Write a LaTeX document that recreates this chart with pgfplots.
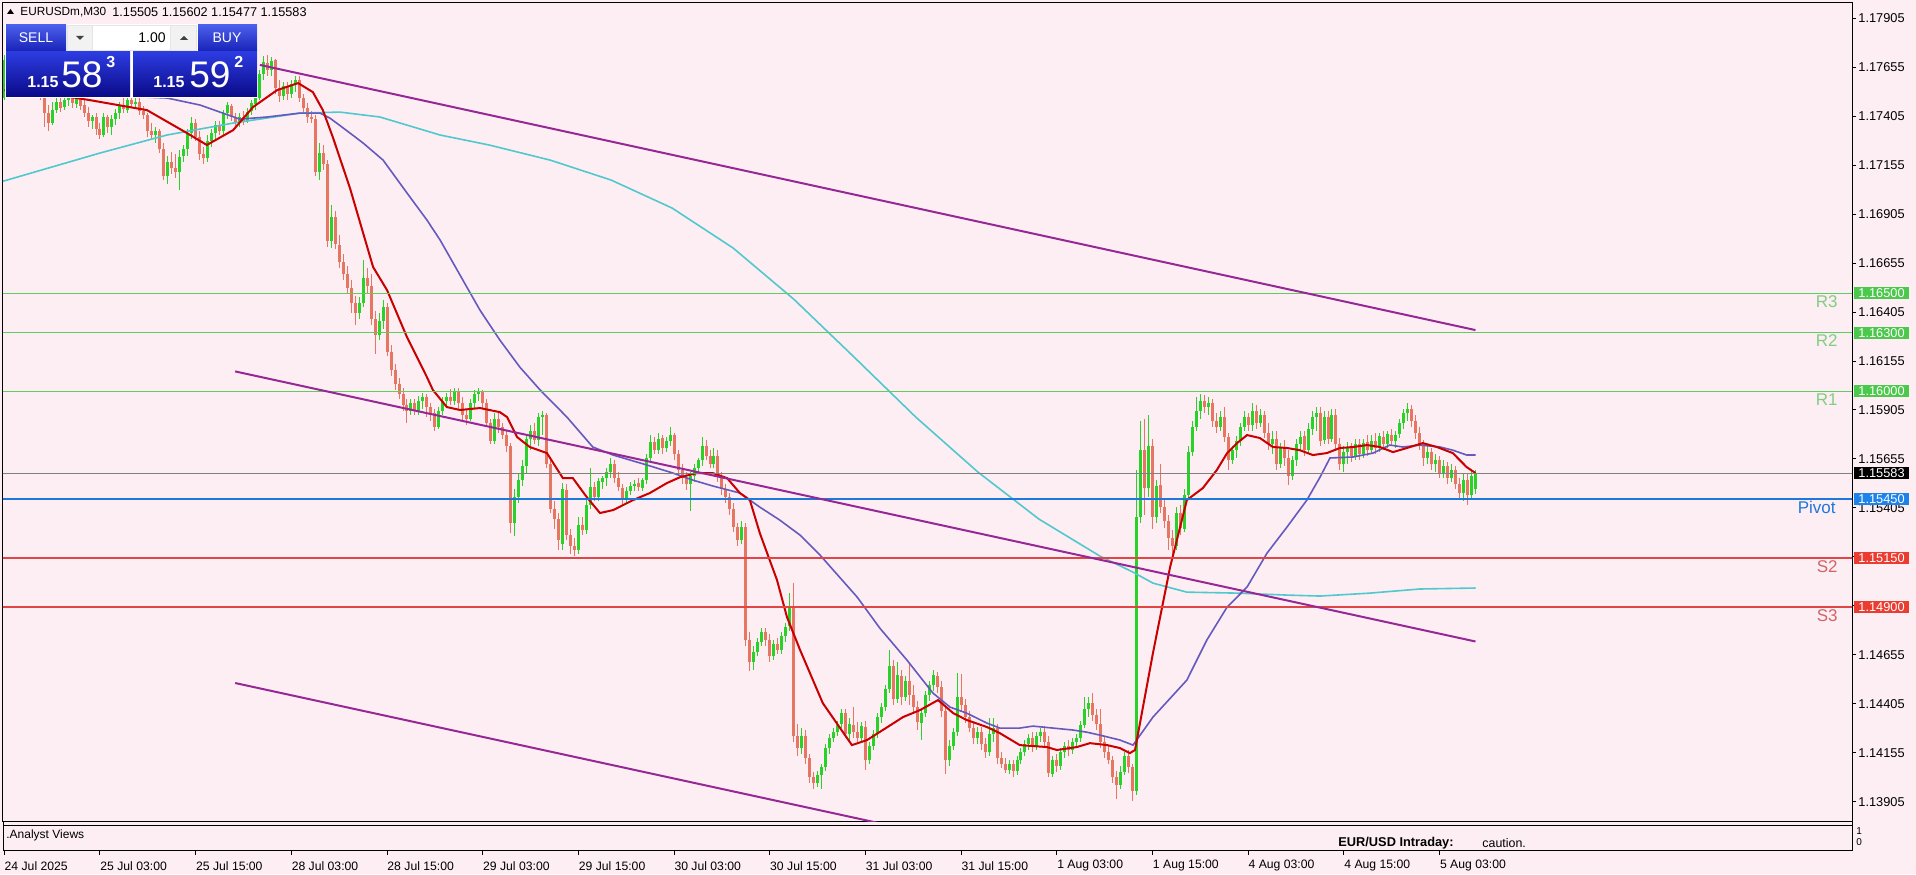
\documentclass[border=0pt]{standalone}
\usepackage{pgfplots}
\pgfplotsset{compat=1.18}
\usepackage{pgfplotstable}
\usepackage{fontspec}
\setmainfont{Liberation Sans}

\definecolor{bg}{RGB}{253,238,243}
\definecolor{up}{RGB}{40,210,40}
\definecolor{dn}{RGB}{230,118,98}
\definecolor{maR}{RGB}{200,0,0}
\definecolor{maB}{RGB}{100,90,190}
\definecolor{maC}{RGB}{80,200,205}
\definecolor{trend}{RGB}{150,40,150}
\definecolor{lvG}{RGB}{95,205,95}
\definecolor{lvGt}{RGB}{130,205,130}
\definecolor{lvB}{RGB}{30,120,220}
\definecolor{lvR}{RGB}{225,70,70}
\definecolor{lvRt}{RGB}{210,100,100}
\definecolor{boxG}{RGB}{76,200,76}
\definecolor{boxB}{RGB}{30,130,235}
\definecolor{boxR}{RGB}{235,60,50}
\definecolor{btnTop}{RGB}{75,95,235}
\definecolor{btnBot}{RGB}{25,35,185}
\definecolor{pTop}{RGB}{45,60,225}
\definecolor{pBot}{RGB}{10,10,135}

\pgfplotstableread{
i o h l c
0 1.1750 1.1772 1.1749 1.1769
1 1.1769 1.1773 1.1762 1.1765
2 1.1765 1.1768 1.1759 1.1761
3 1.1761 1.1766 1.1758 1.1764
4 1.1764 1.1767 1.1757 1.1759
5 1.1759 1.1762 1.1754 1.1756
6 1.1756 1.1763 1.1755 1.1761
7 1.1761 1.1762 1.1753 1.1755
8 1.1755 1.1759 1.1752 1.1757
9 1.1757 1.1759 1.1749 1.1750
10 1.1750 1.1752 1.1735 1.1742
11 1.1742 1.1746 1.1733 1.1737
12 1.1737 1.1748 1.1736 1.1744
13 1.1744 1.1751 1.1742 1.1748
14 1.1748 1.1752 1.1743 1.1745
15 1.1745 1.1751 1.1744 1.1749
16 1.1749 1.1753 1.1746 1.1751
17 1.1751 1.1752 1.1745 1.1747
18 1.1747 1.1752 1.1745 1.1750
19 1.1750 1.1751 1.1744 1.1746
20 1.1746 1.1749 1.1740 1.1742
21 1.1742 1.1745 1.1735 1.1738
22 1.1738 1.1741 1.1734 1.1740
23 1.1740 1.1742 1.1731 1.1734
24 1.1734 1.1737 1.1729 1.1731
25 1.1731 1.1742 1.1730 1.1740
26 1.1740 1.1741 1.1732 1.1735
27 1.1735 1.1741 1.1731 1.1739
28 1.1739 1.1744 1.1736 1.1742
29 1.1742 1.1748 1.1739 1.1746
30 1.1746 1.1750 1.1742 1.1744
31 1.1744 1.1751 1.1742 1.1749
32 1.1749 1.1752 1.1745 1.1747
33 1.1747 1.1750 1.1744 1.1748
34 1.1748 1.1750 1.1741 1.1743
35 1.1743 1.1746 1.1739 1.1741
36 1.1741 1.1742 1.1730 1.1733
37 1.1733 1.1737 1.1729 1.1731
38 1.1731 1.1735 1.1727 1.1733
39 1.1733 1.1734 1.1722 1.1724
40 1.1724 1.1727 1.1708 1.1710
41 1.1710 1.1720 1.1706 1.1717
42 1.1717 1.1722 1.1711 1.1714
43 1.1714 1.1721 1.1709 1.1712
44 1.1712 1.1723 1.1703 1.1720
45 1.1720 1.1726 1.1717 1.1724
46 1.1724 1.1734 1.1720 1.1732
47 1.1732 1.1740 1.1729 1.1737
48 1.1737 1.1739 1.1728 1.1730
49 1.1730 1.1733 1.1718 1.1721
50 1.1721 1.1725 1.1716 1.1719
51 1.1719 1.1731 1.1717 1.1728
52 1.1728 1.1734 1.1725 1.1732
53 1.1732 1.1738 1.1729 1.1736
54 1.1736 1.1738 1.1731 1.1733
55 1.1733 1.1744 1.1731 1.1742
56 1.1742 1.1748 1.1739 1.1746
57 1.1746 1.1747 1.1738 1.1740
58 1.1740 1.1742 1.1734 1.1737
59 1.1737 1.1742 1.1735 1.1740
60 1.1740 1.1743 1.1736 1.1738
61 1.1738 1.1745 1.1737 1.1743
62 1.1743 1.1749 1.1741 1.1747
63 1.1747 1.1752 1.1744 1.1750
64 1.1750 1.1764 1.1749 1.1762
65 1.1762 1.1771 1.1759 1.1768
66 1.1768 1.1772 1.1761 1.1764
67 1.1764 1.1771 1.1761 1.1769
68 1.1769 1.1770 1.1752 1.1755
69 1.1755 1.1759 1.1748 1.1751
70 1.1751 1.1758 1.1749 1.1756
71 1.1756 1.1758 1.1749 1.1752
72 1.1752 1.1759 1.1750 1.1757
73 1.1757 1.1761 1.1753 1.1759
74 1.1759 1.1761 1.1748 1.1750
75 1.1750 1.1752 1.1742 1.1745
76 1.1745 1.1747 1.1737 1.1740
77 1.1740 1.1743 1.1737 1.1739
78 1.1739 1.1741 1.1710 1.1712
79 1.1712 1.1727 1.1708 1.1722
80 1.1722 1.1726 1.1713 1.1716
81 1.1716 1.1718 1.1674 1.1677
82 1.1677 1.1695 1.1673 1.1689
83 1.1689 1.1692 1.1673 1.1675
84 1.1675 1.1680 1.1663 1.1666
85 1.1666 1.1670 1.1657 1.1660
86 1.1660 1.1664 1.1650 1.1653
87 1.1653 1.1657 1.1640 1.1645
88 1.1645 1.1649 1.1634 1.1640
89 1.1640 1.1648 1.1637 1.1645
90 1.1645 1.1667 1.1643 1.1658
91 1.1658 1.1663 1.1650 1.1654
92 1.1654 1.1660 1.1634 1.1637
93 1.1637 1.1641 1.1619 1.1629
94 1.1629 1.1640 1.1626 1.1636
95 1.1636 1.1647 1.1632 1.1643
96 1.1643 1.1645 1.1618 1.1620
97 1.1620 1.1624 1.1608 1.1611
98 1.1611 1.1614 1.1601 1.1604
99 1.1604 1.1607 1.1596 1.1599
100 1.1599 1.1602 1.1590 1.1593
101 1.1593 1.1596 1.1584 1.1590
102 1.1590 1.1596 1.1588 1.1594
103 1.1594 1.1596 1.1588 1.1590
104 1.1590 1.1598 1.1588 1.1595
105 1.1595 1.1599 1.1591 1.1597
106 1.1597 1.1599 1.1587 1.1592
107 1.1592 1.1594 1.1585 1.1589
108 1.1589 1.1591 1.1580 1.1582
109 1.1582 1.1592 1.1581 1.1590
110 1.1590 1.1597 1.1588 1.1595
111 1.1595 1.1599 1.1592 1.1597
112 1.1597 1.1601 1.1593 1.1595
113 1.1595 1.1602 1.1593 1.1600
114 1.1600 1.1602 1.1591 1.1594
115 1.1594 1.1597 1.1585 1.1588
116 1.1588 1.1591 1.1583 1.1586
117 1.1586 1.1596 1.1585 1.1594
118 1.1594 1.1601 1.1591 1.1599
119 1.1599 1.1602 1.1595 1.1600
120 1.1600 1.1601 1.1591 1.1594
121 1.1594 1.1596 1.1582 1.1584
122 1.1584 1.1586 1.1573 1.1575
123 1.1575 1.1589 1.1573 1.1586
124 1.1586 1.1590 1.1579 1.1582
125 1.1582 1.1584 1.1576 1.1578
126 1.1578 1.1580 1.1569 1.1572
127 1.1572 1.1574 1.1528 1.1533
128 1.1533 1.1550 1.1526 1.1546
129 1.1546 1.1558 1.1543 1.1555
130 1.1555 1.1565 1.1552 1.1562
131 1.1562 1.1578 1.1558 1.1576
132 1.1576 1.1583 1.1570 1.1580
133 1.1580 1.1584 1.1573 1.1575
134 1.1575 1.1589 1.1572 1.1587
135 1.1587 1.1590 1.1578 1.1588
136 1.1588 1.1589 1.1561 1.1563
137 1.1563 1.1566 1.1538 1.1540
138 1.1540 1.1544 1.1530 1.1535
139 1.1535 1.1538 1.1519 1.1524
140 1.1522 1.1553 1.1519 1.1550
141 1.1550 1.1553 1.1524 1.1527
142 1.1527 1.1530 1.1517 1.1521
143 1.1521 1.1525 1.1516 1.1519
144 1.1519 1.1536 1.1517 1.1532
145 1.1532 1.1536 1.1527 1.1529
146 1.1529 1.1545 1.1527 1.1542
147 1.1542 1.1561 1.1540 1.1551
148 1.1551 1.1554 1.1544 1.1546
149 1.1546 1.1556 1.1544 1.1554
150 1.1554 1.1557 1.1550 1.1556
151 1.1556 1.1561 1.1552 1.1559
152 1.1559 1.1566 1.1556 1.1563
153 1.1563 1.1565 1.1553 1.1556
154 1.1556 1.1559 1.1549 1.1551
155 1.1551 1.1553 1.1542 1.1545
156 1.1545 1.1551 1.1543 1.1549
157 1.1549 1.1554 1.1547 1.1552
158 1.1552 1.1555 1.1549 1.1553
159 1.1553 1.1556 1.1549 1.1551
160 1.1551 1.1556 1.1549 1.1555
161 1.1555 1.1568 1.1553 1.1566
162 1.1566 1.1578 1.1564 1.1574
163 1.1574 1.1577 1.1568 1.1570
164 1.1570 1.1579 1.1568 1.1576
165 1.1576 1.1578 1.1568 1.1571
166 1.1571 1.1577 1.1569 1.1575
167 1.1575 1.1582 1.1572 1.1578
168 1.1578 1.1579 1.1565 1.1568
169 1.1568 1.1570 1.1557 1.1560
170 1.1560 1.1563 1.1553 1.1556
171 1.1556 1.1559 1.1550 1.1553
172 1.1553 1.1559 1.1539 1.1557
173 1.1557 1.1563 1.1554 1.1561
174 1.1561 1.1566 1.1558 1.1565
175 1.1565 1.1577 1.1562 1.1572
176 1.1572 1.1575 1.1565 1.1567
177 1.1567 1.1570 1.1561 1.1563
178 1.1563 1.1571 1.1561 1.1567
179 1.1567 1.1570 1.1554 1.1557
180 1.1557 1.1559 1.1547 1.1550
181 1.1550 1.1553 1.1543 1.1546
182 1.1546 1.1548 1.1537 1.1540
183 1.1540 1.1543 1.1528 1.1531
184 1.1531 1.1533 1.1521 1.1524
185 1.1524 1.1534 1.1522 1.1531
186 1.1531 1.1533 1.1470 1.1473
187 1.1473 1.1477 1.1457 1.1462
188 1.1462 1.1470 1.1458 1.1467
189 1.1467 1.1474 1.1465 1.1472
190 1.1472 1.1479 1.1470 1.1477
191 1.1477 1.1479 1.1470 1.1473
192 1.1473 1.1476 1.1462 1.1465
193 1.1465 1.1473 1.1463 1.1471
194 1.1471 1.1474 1.1466 1.1468
195 1.1468 1.1477 1.1466 1.1475
196 1.1475 1.1482 1.1472 1.1480
197 1.1480 1.1497 1.1478 1.1490
198 1.1490 1.1502 1.1421 1.1424
199 1.1424 1.1430 1.1414 1.1418
200 1.1418 1.1428 1.1415 1.1424
201 1.1424 1.1427 1.1410 1.1413
202 1.1413 1.1415 1.1400 1.1403
203 1.1403 1.1406 1.1397 1.1400
204 1.1400 1.1406 1.1398 1.1404
205 1.1404 1.1410 1.1397 1.1408
206 1.1408 1.1420 1.1406 1.1418
207 1.1418 1.1425 1.1415 1.1423
208 1.1423 1.1428 1.1421 1.1426
209 1.1426 1.1432 1.1424 1.1430
210 1.1430 1.1438 1.1428 1.1436
211 1.1436 1.1438 1.1423 1.1425
212 1.1425 1.1433 1.1422 1.1430
213 1.1430 1.1439 1.1423 1.1426
214 1.1426 1.1431 1.1420 1.1423
215 1.1423 1.1431 1.1421 1.1429
216 1.1429 1.1432 1.1407 1.1412
217 1.1412 1.1421 1.1410 1.1419
218 1.1419 1.1427 1.1417 1.1425
219 1.1425 1.1436 1.1423 1.1434
220 1.1434 1.1441 1.1431 1.1439
221 1.1439 1.1450 1.1437 1.1448
222 1.1448 1.1468 1.1446 1.1460
223 1.1460 1.1463 1.1440 1.1443
224 1.1443 1.1462 1.1441 1.1455
225 1.1455 1.1458 1.1440 1.1444
226 1.1444 1.1455 1.1442 1.1452
227 1.1452 1.1462 1.1440 1.1445
228 1.1445 1.1450 1.1436 1.1439
229 1.1439 1.1442 1.1427 1.1431
230 1.1431 1.1438 1.1422 1.1436
231 1.1436 1.1447 1.1434 1.1445
232 1.1445 1.1452 1.1442 1.1450
233 1.1450 1.1458 1.1447 1.1455
234 1.1455 1.1457 1.1446 1.1449
235 1.1449 1.1452 1.1434 1.1437
236 1.1437 1.1440 1.1405 1.1412
237 1.1412 1.1422 1.1409 1.1419
238 1.1419 1.1428 1.1417 1.1426
239 1.1426 1.1456 1.1424 1.1444
240 1.1444 1.1456 1.1437 1.1440
241 1.1440 1.1443 1.1431 1.1434
242 1.1434 1.1437 1.1426 1.1428
243 1.1428 1.1431 1.1420 1.1423
244 1.1423 1.1429 1.1420 1.1426
245 1.1426 1.1429 1.1417 1.1420
246 1.1420 1.1423 1.1413 1.1416
247 1.1416 1.1433 1.1414 1.1425
248 1.1425 1.1433 1.1421 1.1428
249 1.1428 1.1430 1.1410 1.1413
250 1.1413 1.1416 1.1408 1.1410
251 1.1410 1.1413 1.1405 1.1407
252 1.1407 1.1412 1.1405 1.1410
253 1.1410 1.1412 1.1403 1.1406
254 1.1406 1.1414 1.1404 1.1412
255 1.1412 1.1418 1.1410 1.1416
256 1.1416 1.1422 1.1414 1.1420
257 1.1420 1.1425 1.1417 1.1423
258 1.1423 1.1426 1.1416 1.1419
259 1.1419 1.1426 1.1417 1.1424
260 1.1424 1.1428 1.1421 1.1426
261 1.1426 1.1429 1.1418 1.1421
262 1.1421 1.1424 1.1403 1.1405
263 1.1405 1.1414 1.1403 1.1412
264 1.1412 1.1415 1.1406 1.1409
265 1.1409 1.1418 1.1407 1.1416
266 1.1416 1.1421 1.1413 1.1419
267 1.1419 1.1422 1.1414 1.1417
268 1.1417 1.1423 1.1415 1.1421
269 1.1421 1.1425 1.1418 1.1423
270 1.1423 1.1432 1.1421 1.1430
271 1.1430 1.1444 1.1428 1.1438
272 1.1438 1.1444 1.1434 1.1441
273 1.1441 1.1446 1.1432 1.1435
274 1.1435 1.1438 1.1427 1.1430
275 1.1430 1.1438 1.1418 1.1421
276 1.1421 1.1424 1.1413 1.1416
277 1.1416 1.1419 1.1410 1.1412
278 1.1412 1.1414 1.1400 1.1403
279 1.1403 1.1406 1.1392 1.1399
280 1.1399 1.1409 1.1397 1.1406
281 1.1406 1.1416 1.1404 1.1414
282 1.1414 1.1417 1.1405 1.1408
283 1.1408 1.1410 1.1391 1.1396
284 1.1396 1.1560 1.1394 1.1536
285 1.1536 1.1585 1.1533 1.1570
286 1.1570 1.1586 1.1537 1.1551
287 1.1551 1.1588 1.1546 1.1572
288 1.1572 1.1576 1.1530 1.1536
289 1.1536 1.1555 1.1533 1.1552
290 1.1552 1.1563 1.1538 1.1541
291 1.1541 1.1545 1.1530 1.1534
292 1.1534 1.1537 1.1519 1.1525
293 1.1525 1.1529 1.1517 1.1521
294 1.1521 1.1541 1.1519 1.1538
295 1.1538 1.1542 1.1527 1.1530
296 1.1530 1.1550 1.1528 1.1547
297 1.1547 1.1572 1.1545 1.1569
298 1.1569 1.1585 1.1567 1.1582
299 1.1582 1.1597 1.1580 1.1590
300 1.1590 1.1599 1.1586 1.1595
301 1.1595 1.1598 1.1589 1.1592
302 1.1592 1.1597 1.1588 1.1594
303 1.1594 1.1596 1.1582 1.1585
304 1.1585 1.1589 1.1579 1.1582
305 1.1582 1.1590 1.1580 1.1587
306 1.1587 1.1592 1.1574 1.1577
307 1.1577 1.1579 1.1560 1.1565
308 1.1565 1.1572 1.1563 1.1570
309 1.1570 1.1577 1.1566 1.1575
310 1.1575 1.1584 1.1572 1.1582
311 1.1582 1.1590 1.1580 1.1587
312 1.1587 1.1589 1.1580 1.1583
313 1.1583 1.1594 1.1580 1.1590
314 1.1590 1.1593 1.1581 1.1584
315 1.1584 1.1591 1.1582 1.1588
316 1.1588 1.1590 1.1576 1.1579
317 1.1579 1.1584 1.1570 1.1573
318 1.1573 1.1580 1.1568 1.1576
319 1.1576 1.1580 1.1560 1.1563
320 1.1563 1.1574 1.1561 1.1571
321 1.1571 1.1575 1.1562 1.1566
322 1.1566 1.1570 1.1552 1.1557
323 1.1557 1.1567 1.1555 1.1565
324 1.1565 1.1576 1.1562 1.1573
325 1.1573 1.1580 1.1570 1.1577
326 1.1577 1.1580 1.1567 1.1570
327 1.1570 1.1584 1.1568 1.1581
328 1.1581 1.1590 1.1578 1.1587
329 1.1587 1.1592 1.1580 1.1589
330 1.1589 1.1592 1.1572 1.1575
331 1.1575 1.1590 1.1573 1.1587
332 1.1587 1.1590 1.1573 1.1576
333 1.1576 1.1591 1.1574 1.1588
334 1.1588 1.1591 1.1570 1.1573
335 1.1573 1.1576 1.1560 1.1563
336 1.1563 1.1572 1.1559 1.1569
337 1.1569 1.1574 1.1563 1.1571
338 1.1571 1.1574 1.1564 1.1567
339 1.1567 1.1576 1.1565 1.1573
340 1.1573 1.1576 1.1565 1.1568
341 1.1568 1.1576 1.1566 1.1574
342 1.1574 1.1578 1.1567 1.1570
343 1.1570 1.1578 1.1568 1.1575
344 1.1575 1.1579 1.1568 1.1571
345 1.1571 1.1579 1.1569 1.1577
346 1.1577 1.1580 1.1570 1.1573
347 1.1573 1.1580 1.1571 1.1578
348 1.1578 1.1581 1.1572 1.1575
349 1.1575 1.1580 1.1571 1.1578
350 1.1578 1.1586 1.1576 1.1584
351 1.1584 1.1591 1.1581 1.1589
352 1.1589 1.1594 1.1585 1.1591
353 1.1591 1.1593 1.1582 1.1585
354 1.1585 1.1588 1.1576 1.1579
355 1.1579 1.1582 1.1570 1.1573
356 1.1573 1.1575 1.1562 1.1566
357 1.1566 1.1572 1.1563 1.1569
358 1.1569 1.1571 1.1560 1.1563
359 1.1563 1.1568 1.1559 1.1565
360 1.1565 1.1567 1.1556 1.1558
361 1.1558 1.1565 1.1556 1.1562
362 1.1562 1.1564 1.1553 1.1556
363 1.1556 1.1563 1.1554 1.1560
364 1.1560 1.1562 1.1550 1.1553
365 1.1553 1.1556 1.1545 1.1548
366 1.1548 1.1558 1.1544 1.1555
367 1.1555 1.1558 1.1542 1.1547
368 1.1547 1.1560 1.1545 1.1557
369 1.15505 1.15602 1.15477 1.15583
}\candles

\pgfplotstableread{
i p
0 1.17538
9 1.17528
21.5 1.17487
35.8 1.17436
45.8 1.17319
50.8 1.17258
57.4 1.17334
62.4 1.17452
68.4 1.17538
73.7 1.17574
77.4 1.17528
79.9 1.17436
82.4 1.17298
86.7 1.17038
92.5 1.16635
96.0 1.16517
101.0 1.16277
106.0 1.16073
107.5 1.16007
111.0 1.15920
114.3 1.15905
119.3 1.15915
124.3 1.15894
126.1 1.15869
128.6 1.15767
131.8 1.15716
136.1 1.15685
140.1 1.15557
142.6 1.15557
146.1 1.15460
149.4 1.15379
152.7 1.15394
157.7 1.15445
161.9 1.15481
166.2 1.15532
169.5 1.15562
173.7 1.15583
177.7 1.15583
181.3 1.15557
184.5 1.15481
187.0 1.15445
189.5 1.15276
193.8 1.15037
196.3 1.14848
199.6 1.14679
205.3 1.14408
212.6 1.14194
216.4 1.14220
221.5 1.14286
225.4 1.14337
229.7 1.14373
234.2 1.14424
238.0 1.14357
241.4 1.14322
246.5 1.14286
249.7 1.14255
254.7 1.14194
261.5 1.14184
264.0 1.14169
269.0 1.14184
272.3 1.14204
276.6 1.14194
279.8 1.14179
282.3 1.14153
283.6 1.14169
288.1 1.14664
292.4 1.15103
296.6 1.15445
300.6 1.15506
304.1 1.15598
306.7 1.15685
309.2 1.15736
311.7 1.15777
314.9 1.15762
318.2 1.15716
321.7 1.15711
324.9 1.15700
328.2 1.15675
331.7 1.15685
335.0 1.15711
338.3 1.15716
341.8 1.15726
345.0 1.15716
348.3 1.15690
351.8 1.15711
355.8 1.15736
359.3 1.15716
363.3 1.15685
366.8 1.15613
369 1.15583
}\maRed

\pgfplotstableread{
i p
0 1.17564
14 1.17549
29 1.17508
40.8 1.17498
49.1 1.17462
59.1 1.17390
65.9 1.17401
74.2 1.17421
79.2 1.17421
81.7 1.17395
86.7 1.17319
90.0 1.17268
95.0 1.17181
101.0 1.17013
106.0 1.16875
109.3 1.16773
114.3 1.16594
119.3 1.16415
124.3 1.16262
129.3 1.16124
134.4 1.16007
141.1 1.15869
147.6 1.15716
152.7 1.15675
161.2 1.15624
167.7 1.15583
172.7 1.15547
177.7 1.15517
184.5 1.15481
189.5 1.15409
194.5 1.15343
199.6 1.15266
204.6 1.15164
213.9 1.14950
219.6 1.14791
226.4 1.14628
232.9 1.14460
237.2 1.14388
241.4 1.14357
246.5 1.14306
249.7 1.14281
254.7 1.14281
258.0 1.14291
263.0 1.14281
268.0 1.14271
271.5 1.14260
274.8 1.14245
279.8 1.14220
283.1 1.14194
288.1 1.14337
296.6 1.14526
301.6 1.14730
306.7 1.14899
311.7 1.15001
316.7 1.15174
321.7 1.15307
326.7 1.15445
330.0 1.15562
332.5 1.15660
338.3 1.15665
343.3 1.15685
347.5 1.15726
350.8 1.15716
355.0 1.15726
360.1 1.15716
363.3 1.15700
366.8 1.15675
369 1.15675
}\maBlue

\pgfplotstableread{
i p
-1 1.17069
24.0 1.17217
40.8 1.17309
57.4 1.17370
74.2 1.17421
84.2 1.17426
94.2 1.17401
109.3 1.17309
121.6 1.17258
136.9 1.17181
152.2 1.17079
167.5 1.16936
182.8 1.16732
198.0 1.16471
213.4 1.16170
228.6 1.15869
244.2 1.15588
259.5 1.15348
274.8 1.15159
283.1 1.15077
288.1 1.15021
296.6 1.14975
309.2 1.14970
321.7 1.14960
330.0 1.14955
342.5 1.14970
355.0 1.14991
369 1.14996
}\maCyan

\newcommand{\tfont}{\fontsize{6.4}{7}\selectfont}
\pgfplotsset{
  candle/.style 2 args={draw=none, mark=none, forget plot,
    error bars/y dir=both, error bars/y explicit, error bars/error mark=none,
    error bars/error bar style={draw=#1, line width=#2, line cap=butt}},
}

\begin{document}
\begin{tikzpicture}
\useasboundingbox (0,0) rectangle (958pt,437pt);
\fill[bg] (0,0) rectangle (958pt,437pt);

\begin{axis}[
  at={(1.5pt,26.15pt)}, anchor=south west,
  scale only axis, width=924.5pt, height=409.35pt,
  xmin=-0.326, xmax=463.43, ymin=1.138029, ymax=1.179831,
  axis line style={black, line width=0.5pt},
  xtick={0,24,48,72,96,120,144,168,192,216,240,264,288,312,336,360},
  xticklabels={24 Jul 2025,25 Jul 03:00,25 Jul 15:00,28 Jul 03:00,28 Jul 15:00,29 Jul 03:00,29 Jul 15:00,30 Jul 03:00,30 Jul 15:00,31 Jul 03:00,31 Jul 15:00,1 Aug 03:00,1 Aug 15:00,4 Aug 03:00,4 Aug 15:00,5 Aug 03:00},
  xtick style={draw=none},
  xticklabel style={anchor=west, inner sep=0pt, yshift=-20.15pt, font=\fontsize{6.1}{7}\selectfont},
  ytick={1.13905,1.14155,1.14405,1.14655,1.14905,1.15155,1.15405,1.15655,1.15905,1.16155,1.16405,1.16655,1.16905,1.17155,1.17405,1.17655,1.17905},
  yticklabels={1.13905,1.14155,1.14405,1.14655,1.14905,1.15155,1.15405,1.15655,1.15905,1.16155,1.16405,1.16655,1.16905,1.17155,1.17405,1.17655,1.17905},
  ytick pos=right, yticklabel pos=right,
  ytick style={black, line width=0.5pt},
  major tick length=2pt, tick align=outside,
  yticklabel style={anchor=west, inner sep=0pt, xshift=1pt, font=\tfont},
  clip=true,
]
% candles: wicks and bodies
\addplot[restrict expr to domain={\thisrow{c}-\thisrow{o}}{0:1}, candle={up}{0.5pt}]
  table[x=i, y expr=(\thisrow{h}+\thisrow{l})/2, y error expr=(\thisrow{h}-\thisrow{l})/2]{\candles};
\addplot[restrict expr to domain={\thisrow{c}-\thisrow{o}}{-1:-0.000001}, candle={dn}{0.5pt}]
  table[x=i, y expr=(\thisrow{h}+\thisrow{l})/2, y error expr=(\thisrow{h}-\thisrow{l})/2]{\candles};
\addplot[restrict expr to domain={\thisrow{c}-\thisrow{o}}{0:1}, candle={up}{1.5pt}]
  table[x=i, y expr=(\thisrow{o}+\thisrow{c})/2, y error expr=(\thisrow{c}-\thisrow{o})/2]{\candles};
\addplot[restrict expr to domain={\thisrow{c}-\thisrow{o}}{-1:-0.000001}, candle={dn}{1.5pt}]
  table[x=i, y expr=(\thisrow{o}+\thisrow{c})/2, y error expr=(\thisrow{o}-\thisrow{c})/2]{\candles};

% moving averages
\addplot[maC, line width=0.8pt, mark=none] table[x=i, y=p]{\maCyan};
\addplot[maB, line width=0.8pt, mark=none] table[x=i, y=p]{\maBlue};
\addplot[maR, line width=1pt, mark=none] table[x=i, y=p]{\maRed};

% levels
\addplot[lvG, line width=0.75pt] coordinates {(-1,1.165) (470,1.165)};
\addplot[lvG, line width=0.75pt] coordinates {(-1,1.163) (470,1.163)};
\addplot[lvG, line width=0.75pt] coordinates {(-1,1.160) (470,1.160)};
\addplot[gray, line width=0.4pt] coordinates {(-1,1.15583) (470,1.15583)};
\addplot[lvB, line width=1pt] coordinates {(-1,1.1545) (470,1.1545)};
\addplot[lvR, line width=0.75pt] coordinates {(-1,1.1515) (470,1.1515)};
\addplot[lvR, line width=0.75pt] coordinates {(-1,1.149) (470,1.149)};

% trend channel
\addplot[trend, line width=1pt] coordinates {(64.1,1.17667) (369,1.16313)};
\addplot[trend, line width=1pt] coordinates {(57.9,1.16102) (369,1.14723)};
\addplot[trend, line width=1pt] coordinates {(57.9,1.14511) (369,1.13133)};
\end{axis}

% overlay in pixel units (X = px from left, Y = px from bottom)
\begin{scope}[x=0.5pt, y=0.5pt]
  % level labels
  \node[anchor=north east, inner sep=0pt, text=lvGt, font=\fontsize{8.5}{9}\selectfont] at (1838,579) {R3};
  \node[anchor=north east, inner sep=0pt, text=lvGt, font=\fontsize{8.5}{9}\selectfont] at (1838,540) {R2};
  \node[anchor=north east, inner sep=0pt, text=lvGt, font=\fontsize{8.5}{9}\selectfont] at (1838,481) {R1};
  \node[anchor=north east, inner sep=0pt, text=lvB, font=\fontsize{8.5}{9}\selectfont] at (1836,373) {Pivot};
  \node[anchor=north east, inner sep=0pt, text=lvRt, font=\fontsize{8.5}{9}\selectfont] at (1838,314) {S2};
  \node[anchor=north east, inner sep=0pt, text=lvRt, font=\fontsize{8.5}{9}\selectfont] at (1838,265) {S3};
  % price boxes on right scale
  \foreach \yy/\col/\txt in {580.5/boxG/1.16500, 541.4/boxG/1.16300, 482.6/boxG/1.16000, 400.9/black/1.15583, 374.9/boxB/1.15450, 316.1/boxR/1.15150, 267.2/boxR/1.14900} {
    \fill[\col] (1854,\yy-6) rectangle (1909,\yy+6);
    \node[text=white, inner sep=0pt, font=\tfont] at (1881.5,\yy) {\txt};
  }
  % sub window
  \draw[black, line width=0.5pt] (3,49) rectangle (1852,24);
  \draw[black, line width=0.5pt] (3,24) -- (3,52.3);
  \draw[black, line width=0.5pt] (1852,24) -- (1852,52.3);
  \node[anchor=west, inner sep=0pt, font=\fontsize{6}{7}\selectfont] at (6,39) {.Analyst Views};
  \node[anchor=west, inner sep=0pt, font=\bfseries\fontsize{6.4}{7}\selectfont] at (1338,31) {EUR/USD Intraday:};
  \node[anchor=west, inner sep=0pt, font=\fontsize{6.2}{7}\selectfont] at (1482,31) {caution.};
  \node[anchor=west, inner sep=0pt, font=\fontsize{5}{6}\selectfont] at (1856,43) {1};
  \node[anchor=west, inner sep=0pt, font=\fontsize{5}{6}\selectfont] at (1856,32) {0};
  % date ticks
  \foreach \k in {0,...,15} {
    \draw[black, line width=0.5pt] ({4.3+95.688*\k},24) -- ++(0,-5);
  }
  % header
  \fill[black] (7,860) -- (14,860) -- (10.5,865) -- cycle;
  \node[anchor=west, inner sep=0pt, font=\fontsize{5.9}{7}\selectfont] at (20,861.5) {EURUSDm,M30};
  \node[anchor=west, inner sep=0pt, font=\fontsize{6.35}{7}\selectfont] at (112,861.5) {1.15505 1.15602 1.15477 1.15583};
  % one-click trading panel
  \fill[white] (5,850) rectangle (258,776);
  \shade[top color=btnTop, bottom color=btnBot] (6,849) rectangle (66,823);
  \fill[gray!20] (67,849) rectangle (197,823);
  \fill[white] (93,848) rectangle (170,824);
  \fill[gray!10] (68,848) rectangle (92,824);
  \fill[gray!10] (171,848) rectangle (196,824);
  \fill[black!75] (76,838) -- (84,838) -- (80,834) -- cycle;
  \fill[black!75] (180,834) -- (188,834) -- (184,838) -- cycle;
  \node[anchor=east, inner sep=0pt, font=\fontsize{7}{8}\selectfont] at (166,836) {1.00};
  \shade[top color=btnTop, bottom color=btnBot] (198,849) rectangle (257,823);
  \node[text=white, font=\fontsize{7}{8}\selectfont] at (36,836) {SELL};
  \node[text=white, font=\fontsize{7}{8}\selectfont] at (227,836) {BUY};
  \shade[top color=pTop, bottom color=pBot] (6,822) rectangle (130,777);
  \shade[top color=pTop, bottom color=pBot] (133,822) rectangle (257,777);
  \node[anchor=base west, inner sep=0pt, text=white, font=\bfseries\fontsize{8}{9}\selectfont] at (27,786) {1.15};
  \node[anchor=base west, inner sep=0pt, text=white, font=\fontsize{18.5}{19}\selectfont] at (61,786) {58};
  \node[anchor=base west, inner sep=0pt, text=white, font=\bfseries\fontsize{8}{9}\selectfont] at (106,806) {3};
  \node[anchor=base west, inner sep=0pt, text=white, font=\bfseries\fontsize{8}{9}\selectfont] at (153,786) {1.15};
  \node[anchor=base west, inner sep=0pt, text=white, font=\fontsize{18.5}{19}\selectfont] at (189,786) {59};
  \node[anchor=base west, inner sep=0pt, text=white, font=\bfseries\fontsize{8}{9}\selectfont] at (234,806) {2};
\end{scope}
\end{tikzpicture}
\end{document}
